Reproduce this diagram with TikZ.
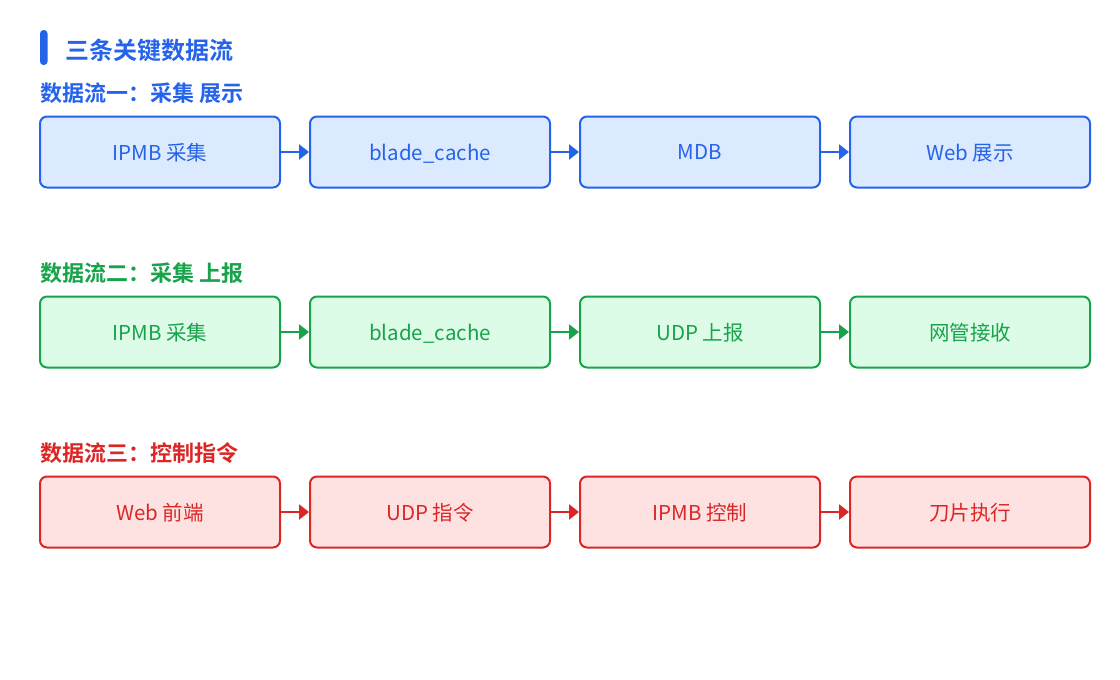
\documentclass[tikz,border=0pt]{standalone}
\usepackage{fontspec}
\setmainfont{Noto Sans CJK SC}
\newfontfamily\cjkbold{Noto Sans CJK SC Bold}
\usetikzlibrary{arrows.meta}
\definecolor{bl}{HTML}{2563EB}
\definecolor{blf}{HTML}{DBEAFE}
\definecolor{gr}{HTML}{16A34A}
\definecolor{grf}{HTML}{DCFCE7}
\definecolor{rd}{HTML}{DC2626}
\definecolor{rdf}{HTML}{FEE2E2}
\tikzset{
  flowbox/.style={draw, line width=2pt, rounded corners=7pt, minimum width=240pt, minimum height=71pt, inner sep=0pt, text depth=-3pt, font=\fontsize{20.5}{24}\selectfont},
  bluebox/.style={flowbox, draw=bl, fill=blf, text=bl},
  greenbox/.style={flowbox, draw=gr, fill=grf, text=gr},
  redbox/.style={flowbox, draw=rd, fill=rdf, text=rd},
  flowtitle/.style={anchor=west, inner sep=0pt, font=\cjkbold\fontsize{22}{26}\selectfont},
  conn/.style={line width=2.8pt, -{Triangle[length=10pt,width=15pt]}},
}
\begin{document}
\begin{tikzpicture}[x=1pt,y=-1pt]
\useasboundingbox (0,0) rectangle (1120,680);
\fill[bl, rounded corners=3.5pt] (40,30) rectangle (47.5,65);
\node[anchor=west, inner sep=0pt, text=bl, font=\cjkbold\fontsize{24}{28}\selectfont] (head) at (65,50) {三条关键数据流};

\node[flowtitle, text=bl] (t1) at (40,93) {数据流一：采集 展示};
\node[bluebox] (a1) at (160,152) {IPMB 采集};
\node[bluebox] (a2) at (430,152) {blade\_cache};
\node[bluebox] (a3) at (700,152) {MDB};
\node[bluebox] (a4) at (970,152) {Web 展示};
\draw[conn, bl] (a1) -- (a2);
\draw[conn, bl] (a2) -- (a3);
\draw[conn, bl] (a3) -- (a4);

\node[flowtitle, text=gr] (t2) at (40,273) {数据流二：采集 上报};
\node[greenbox] (b1) at (160,332) {IPMB 采集};
\node[greenbox] (b2) at (430,332) {blade\_cache};
\node[greenbox] (b3) at (700,332) {UDP 上报};
\node[greenbox] (b4) at (970,332) {网管接收};
\draw[conn, gr] (b1) -- (b2);
\draw[conn, gr] (b2) -- (b3);
\draw[conn, gr] (b3) -- (b4);

\node[flowtitle, text=rd] (t3) at (40,453) {数据流三：控制指令};
\node[redbox] (c1) at (160,512) {Web 前端};
\node[redbox] (c2) at (430,512) {UDP 指令};
\node[redbox] (c3) at (700,512) {IPMB 控制};
\node[redbox] (c4) at (970,512) {刀片执行};
\draw[conn, rd] (c1) -- (c2);
\draw[conn, rd] (c2) -- (c3);
\draw[conn, rd] (c3) -- (c4);
\end{tikzpicture}
\end{document}
